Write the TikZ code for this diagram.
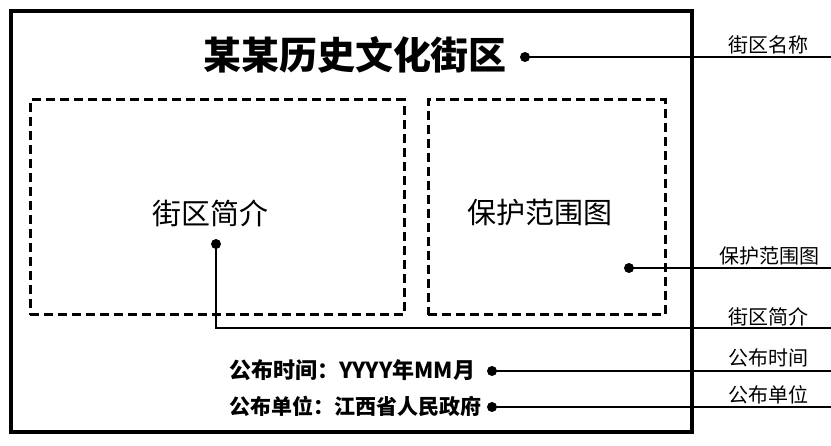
\documentclass[tikz,border=0pt]{standalone}
\usepackage{fontspec}
\setmainfont{Liberation Serif}
\newfontfamily\cjk{Noto Sans CJK SC}
\usepackage{tikz}
\usetikzlibrary{positioning}
\tikzstyle{frame} = [rectangle, draw, line width=3.5pt, inner sep=0pt]
\tikzstyle{dashbox} = [rectangle, draw, line width=3pt, dash pattern=on 9pt off 5pt, inner sep=0pt]
\tikzstyle{dot} = [circle, fill, inner sep=0pt, minimum size=10pt]
\tikzstyle{label} = [font=\cjk\fontsize{20}{22}\selectfont, inner sep=0pt]
\tikzstyle{connector} = [draw, line width=2pt]

\begin{document}
\begin{tikzpicture}[x=1pt, y=-1pt]
\useasboundingbox (0,0) rectangle (831,446);

\node [frame, minimum width=681pt, minimum height=421pt] at (351.5,221.5) (board) {};

\node [dashbox, minimum width=374pt, minimum height=215pt] at (217,207.5) (box_1) {};
\node [dashbox, minimum width=237pt, minimum height=215pt] at (546.5,207.5) (box_2) {};

\node [font=\cjk\bfseries\fontsize{38}{42}\selectfont, inner sep=0pt] at (355,55) (title) {某某历史文化街区};
\node [font=\cjk\fontsize{29}{32}\selectfont, inner sep=0pt] at (210,213) (text_1) {街区简介};
\node [font=\cjk\fontsize{29}{32}\selectfont, inner sep=0pt] at (540,213) (text_2) {保护范围图};

\node [anchor=west, font=\cjk\bfseries\fontsize{22}{24}\selectfont, inner sep=0pt] at (229,370) (date) {公布时间：YYYY年MM月};
\node [anchor=west, font=\cjk\bfseries\fontsize{21}{23}\selectfont, inner sep=0pt] at (229,406) (issuer) {公布单位：江西省人民政府};

\node [dot] at (525,57) (dot_1) {};
\node [dot] at (216,244) (dot_2) {};
\node [dot] at (629,268) (dot_3) {};
\node [dot] at (492,371) (dot_4) {};
\node [dot] at (492,407) (dot_5) {};

\coordinate (end_1) at (831,57);
\coordinate (end_2) at (831,328);
\coordinate (end_3) at (831,268);
\coordinate (end_4) at (831,371);
\coordinate (end_5) at (831,407);

\node [label] at (768,45) (name_1) {街区名称};
\node [label] at (769,256) (name_3) {保护范围图};
\node [label] at (768,317) (name_2) {街区简介};
\node [label] at (768,358) (name_4) {公布时间};
\node [label] at (768,395) (name_5) {公布单位};

\path [connector] (dot_1.center) -- (end_1);
\path [connector] (dot_2.center) |- (end_2);
\path [connector] (dot_3.center) -- (end_3);
\path [connector] (dot_4.center) -- (end_4);
\path [connector] (dot_5.center) -- (end_5);

\end{tikzpicture}
\end{document}
